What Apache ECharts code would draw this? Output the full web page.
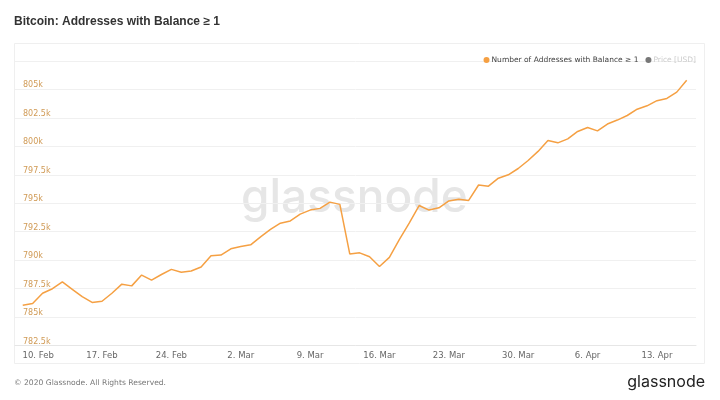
<!DOCTYPE html>
<html>
<head>
<meta charset="utf-8">
<script src="https://cdn.jsdelivr.net/npm/echarts@6/dist/echarts.min.js"></script>
<style>
    html, body { margin: 0; padding: 0; background: #fff; }
    #chart { width: 720px; height: 400px; }
</style>
</head>
<body>
<div id="chart"></div>
<script>
// day 0 = 9. Feb 2020, one point per day
const addresses = [
    786050, 786200, 787100, 787500, 788100, 787450, 786800, 786300, 786400, 787100,
    787900, 787750, 788700, 788250, 788750, 789200, 788950, 789050, 789400, 790400,
    790450, 791000, 791200, 791350, 792050, 792700, 793250, 793450, 794050, 794400,
    794550, 795100, 794900, 790550, 790650, 790300, 789450, 790250, 791800, 793250,
    794800, 794400, 794600, 795200, 795350, 795250, 796600, 796500, 797200, 797500,
    798050, 798750, 799550, 800500, 800300, 800650, 801300, 801650, 801350, 801950,
    802300, 802700, 803250, 803550, 804000, 804200, 804750, 805800
];
const tickDays = [1, 8, 15, 22, 29, 36, 43, 50, 57, 64];
const tickLabels = ['10. Feb', '17. Feb', '24. Feb', '2. Mar', '9. Mar', '16. Mar', '23. Mar', '30. Mar', '6. Apr', '13. Apr'];

const seriesName = 'Number of Addresses with Balance \u2265 1';
const lineData = addresses.map((v, i) => [i, v]);

const myChart = echarts.init(document.getElementById('chart'));
const option = {
    animation: false,
    textStyle: { fontFamily: 'DejaVu Sans' },
    title: {
        text: 'Bitcoin: Addresses with Balance \u2265 1',
        left: 9,
        top: 11,
        textStyle: { fontFamily: 'Liberation Sans', fontSize: 12, fontWeight: 'bold', color: '#333' }
    },
    legend: {
        right: 19,
        top: 51,
        icon: 'circle',
        itemWidth: 6,
        itemHeight: 6,
        itemGap: 7,
        textStyle: { fontSize: 7.5, color: '#444', padding: [0, 0, 0, -3] },
        data: [
            { name: seriesName },
            { name: 'Price [USD]', itemStyle: { color: '#777' }, textStyle: { color: '#ccc' } }
        ]
    },
    graphic: [
        {
            type: 'rect',
            shape: { x: 14.5, y: 43.5, width: 690, height: 320 },
            style: { fill: 'none', stroke: '#efefef', lineWidth: 1 },
            z: -10
        },
        {
            type: 'text',
            left: 241,
            top: 175,
            style: { text: 'glassnode', fontFamily: 'Inter', fontSize: 46, fontWeight: 500, fill: '#e6e6e6' },
            z: -5
        },
        {
            type: 'text',
            left: 14,
            top: 379,
            style: { text: '\u00a9 2020 Glassnode. All Rights Reserved.', fontFamily: 'DejaVu Sans', fontSize: 7.6, fill: '#777' }
        },
        {
            type: 'text',
            right: 15,
            top: 374,
            style: { text: 'glassnode', fontFamily: 'Inter', fontSize: 16, fill: '#222' }
        }
    ],
    grid: { left: 15, right: 24, top: 60.8, bottom: 54.3 },
    xAxis: {
        type: 'value',
        min: -0.78,
        max: 67.94,
        splitLine: { show: false },
        axisLine: { lineStyle: { color: '#e6e6e6' } },
        axisTick: { show: false },
        axisLabel: {
            customValues: tickDays,
            color: '#666',
            fontSize: 8.5,
            margin: 6,
            formatter: v => {
                const k = tickDays.indexOf(Math.round(v));
                if (k < 0) return '';
                return k === 0 ? '{first|' + tickLabels[k] + '}' : tickLabels[k];
            },
            rich: {
                first: { color: '#666', fontSize: 8.5, padding: [0, 0, 0, 11] }
            }
        }
    },
    yAxis: {
        type: 'value',
        min: 782500,
        max: 807500,
        interval: 2500,
        axisLine: { show: false },
        axisTick: { show: false },
        splitLine: { lineStyle: { color: '#f0f0f0' } },
        axisLabel: {
            inside: true,
            showMaxLabel: false,
            margin: 8,
            verticalAlign: 'bottom',
            color: '#d09a55',
            fontSize: 8,
            formatter: v => (v / 1000) + 'k'
        }
    },
    series: [
        {
            name: seriesName,
            type: 'line',
            data: lineData,
            showSymbol: false,
            color: '#f5a043',
            lineStyle: { width: 1.5, color: '#f5a043' },
            z: 3
        },
        {
            name: 'Price [USD]',
            type: 'line',
            data: [],
            color: '#777'
        }
    ]
};
myChart.setOption(option, true);
</script>
</body>
</html>
